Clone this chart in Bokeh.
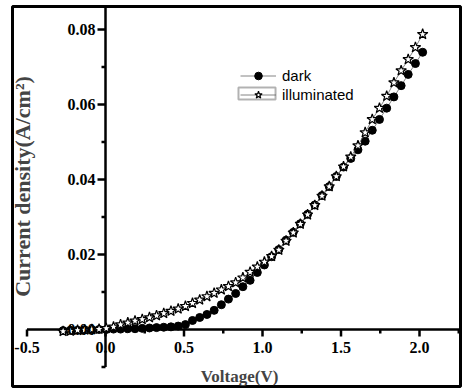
from bokeh.plotting import figure
from bokeh.models import (Range1d, FixedTicker, NumeralTickFormatter, Legend, LegendItem,
                          Label, BoxAnnotation)
from bokeh.embed import file_html
from bokeh.resources import INLINE
import math

# Voltage (V)
voltage = [-0.270, -0.224, -0.178, -0.133, -0.087, -0.041, 0.005, 0.051, 0.096, 0.142,
           0.188, 0.234, 0.280, 0.325, 0.371, 0.417, 0.463, 0.509, 0.554, 0.600,
           0.646, 0.692, 0.738, 0.783, 0.829, 0.875, 0.921, 0.967, 1.012, 1.058,
           1.104, 1.150, 1.196, 1.241, 1.287, 1.333, 1.379, 1.425, 1.470, 1.516,
           1.562, 1.608, 1.654, 1.699, 1.745, 1.791, 1.837, 1.883, 1.928, 1.974, 2.020]

# Current density (A/cm^2), dark
dark = [-0.0003, -0.0002, -0.0002, -0.0001, -0.0001, 0.0000, 0.0000, 0.0001, 0.0001, 0.0002,
        0.0002, 0.0003, 0.0004, 0.0005, 0.0006, 0.0007, 0.0009, 0.0013, 0.0024, 0.0032,
        0.0040, 0.0051, 0.0066, 0.0081, 0.0096, 0.0114, 0.0131, 0.0152, 0.0172, 0.0194,
        0.0213, 0.0238, 0.0259, 0.0282, 0.0307, 0.0332, 0.0357, 0.0381, 0.0408, 0.0433,
        0.0456, 0.0479, 0.0502, 0.0531, 0.0560, 0.0590, 0.0620, 0.0650, 0.0680, 0.0709, 0.0739]

# Current density (A/cm^2), illuminated
illuminated = [-0.0005, -0.0004, -0.0002, -0.0001, 0.0000, 0.0001, 0.0003, 0.0007, 0.0013, 0.0018,
               0.0023, 0.0027, 0.0032, 0.0037, 0.0043, 0.0049, 0.0055, 0.0062, 0.0070, 0.0079,
               0.0088, 0.0097, 0.0106, 0.0115, 0.0125, 0.0138, 0.0153, 0.0167, 0.0180, 0.0195,
               0.0212, 0.0236, 0.0258, 0.0281, 0.0306, 0.0331, 0.0356, 0.0381, 0.0408, 0.0434,
               0.0460, 0.0490, 0.0525, 0.0560, 0.0590, 0.0622, 0.0658, 0.0690, 0.0720, 0.0752, 0.0787]

x_major = [-0.5, 0.0, 0.5, 1.0, 1.5, 2.0]
x_minor = [-0.25, 0.25, 0.75, 1.25, 1.75, 2.25]
y_major = [0.00, 0.02, 0.04, 0.06, 0.08]
y_minor = [-0.01, 0.01, 0.03, 0.05, 0.07]

X0, X1 = -0.5924, 2.2611
Y0, Y1 = -0.0152, 0.0861
FW, FH = 448, 380

p = figure(frame_width=FW, frame_height=FH, output_backend="svg", toolbar_location=None,
           x_range=Range1d(X0, X1), y_range=Range1d(Y0, Y1),
           min_border_left=12, min_border_top=6, min_border_right=2, min_border_bottom=2)
p.xgrid.visible = False
p.ygrid.visible = False
p.outline_line_color = "black"
p.outline_line_width = 3
p.background_fill_color = "white"
p.border_fill_color = "white"

serif = "Liberation Serif"

for ax, ticks, minors, fmt, standoff in ((p.xaxis[0], x_major, x_minor, "0.0", 13),
                                         (p.yaxis[0], y_major, y_minor, "0.00", 10)):
    ax.fixed_location = 0
    ax.ticker = FixedTicker(ticks=ticks, minor_ticks=minors)
    ax.formatter = NumeralTickFormatter(format=fmt)
    ax.axis_line_color = None
    ax.major_tick_line_color = None
    ax.minor_tick_line_color = None
    ax.major_tick_out = 0
    ax.major_tick_in = 0
    ax.minor_tick_out = 0
    ax.minor_tick_in = 0
    ax.major_label_text_font = serif
    ax.major_label_text_font_style = "bold"
    ax.major_label_text_font_size = "16px"
    ax.major_label_text_color = "black"
    ax.major_label_standoff = standoff

# axis rules and tick marks at the origin (tick lengths converted from pixels)
px_x = (X1 - X0) / FW
px_y = (Y1 - Y0) / FH
p.segment(x0=[x_major[0]], y0=[0], x1=[X1], y1=[0], line_color="black", line_width=2.5)
p.segment(x0=[0], y0=[y_minor[0]], x1=[0], y1=[Y1], line_color="black", line_width=2.5)
p.segment(x0=x_major, y0=[0] * len(x_major), x1=x_major, y1=[-7 * px_y] * len(x_major),
          line_color="black", line_width=2.5)
p.segment(x0=x_minor, y0=[0] * len(x_minor), x1=x_minor, y1=[-4 * px_y] * len(x_minor),
          line_color="black", line_width=2.5)
p.segment(x0=[0] * len(y_major), y0=y_major, x1=[-8 * px_x] * len(y_major), y1=y_major,
          line_color="black", line_width=2.5)
p.segment(x0=[0] * len(y_minor), y0=y_minor, x1=[-4 * px_x] * len(y_minor), y1=y_minor,
          line_color="black", line_width=2.5)

l1 = p.line(voltage, dark, line_color="#666666", line_width=0.8)
s1 = p.scatter(voltage, dark, marker="circle", size=8, fill_color="black", line_color="black")
l2 = p.line(voltage, illuminated, line_color="#666666", line_width=0.8)
s2 = p.scatter(voltage, illuminated, marker="star", size=11, fill_color="white",
               line_color="black", line_width=1.2)

legend = Legend(items=[LegendItem(label="dark", renderers=[l1, s1]),
                       LegendItem(label="illuminated", renderers=[l2, s2])],
                location=(228, 282), padding=0, margin=0, spacing=0,
                glyph_width=36, glyph_height=19, label_height=19, label_standoff=6,
                label_text_font="Liberation Sans", label_text_font_size="15px",
                label_text_color="black",
                background_fill_alpha=0, border_line_alpha=0)
p.add_layout(legend)

p.add_layout(BoxAnnotation(left=0.847, right=1.083, top=0.0645, bottom=0.0613,
                           fill_alpha=0, line_color="black", line_width=2))

p.add_layout(Label(x=227, y=10, x_units="screen", y_units="screen", text="Voltage(V)",
                   text_font=serif, text_font_style="bold", text_font_size="17px",
                   text_align="center", text_baseline="middle"))
p.add_layout(Label(x=10, y=200, x_units="screen", y_units="screen",
                   text="Current density(A/cm\u00b2)", angle=math.pi / 2,
                   text_font=serif, text_font_style="bold", text_font_size="22px",
                   text_align="center", text_baseline="middle"))

open("out.html", "w").write(file_html(p, INLINE))
